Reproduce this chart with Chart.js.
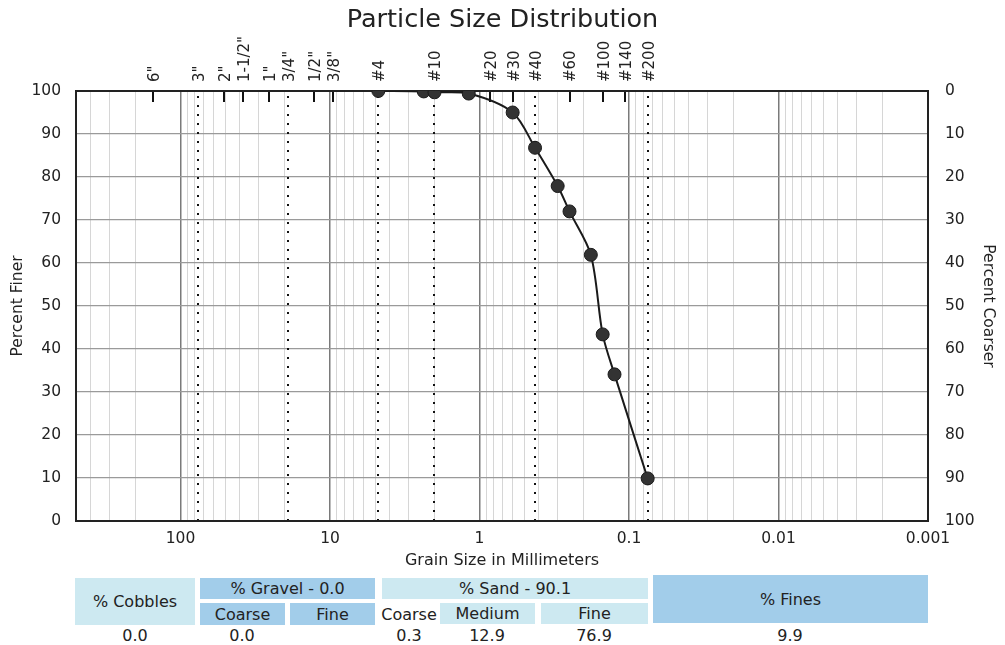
<!DOCTYPE html>
<html><head><meta charset="utf-8">
<script src="https://cdn.jsdelivr.net/npm/chart.js@4.4.1/dist/chart.umd.min.js"></script>
<style>
html,body{margin:0;padding:0;background:#fff;}
#wrap{position:relative;width:1005px;height:645px;font-family:"DejaVu Sans",Verdana,sans-serif;overflow:hidden;}
#c{position:absolute;left:0;top:0;}
.cell{position:absolute;display:flex;align-items:center;justify-content:center;font-size:16px;color:#222;white-space:nowrap;}
</style></head><body>
<div id="wrap"><canvas id="c" width="1005" height="572"></canvas></div>
<script>
// ---- data ----
const grainSizes   = [4.75, 2.36, 2.0, 1.18, 0.6, 0.425, 0.3, 0.25, 0.18, 0.15, 0.125, 0.075];
const percentFiner = [100, 99.9, 99.7, 99.4, 95.0, 86.8, 77.9, 72.0, 61.9, 43.4, 34.1, 9.9];
const sieveLabels  = ['6"','3"','2"','1-1/2"','1"','3/4"','1/2"','3/8"','#4','#10','#20','#30','#40','#60','#100','#140','#200'];
const sieveSizes   = [152.4, 76.2, 50.8, 38.1, 25.4, 19.05, 12.7, 9.525, 4.75, 2.0, 0.85, 0.6, 0.425, 0.25, 0.15, 0.106, 0.075];
const boundarySizes = [76.2, 19.05, 4.75, 2.0, 0.425, 0.075];
const xTickLabels  = [100, 10, 1, 0.1, 0.01, 0.001];
const yTickValues  = [0, 10, 20, 30, 40, 50, 60, 70, 80, 90, 100];
const summaryHeaders = ['% Cobbles', '% Gravel - 0.0', 'Coarse', 'Fine', '% Sand - 90.1', 'Coarse', 'Medium', 'Fine', '% Fines'];
const summaryValues  = ['0.0', '0.0', '', '0.3', '12.9', '76.9', '9.9'];

// ---- summary table (HTML) ----
const BLUE = '#a2cdea', LIGHT = '#cde9f1';
const headerBoxes = [
  [75, 578, 120, 47, LIGHT], [200, 578, 175, 21, BLUE], [200, 603, 85, 22, BLUE], [290, 603, 85, 22, BLUE],
  [382, 578, 266, 21, LIGHT], [382, 603, 54, 22, null], [440, 603, 95, 21, LIGHT], [541, 603, 107, 21, LIGHT],
  [653, 575, 275, 48, BLUE]
];
const valueCenters = [135, 242, 332, 409, 487, 594, 790];
const wrap = document.getElementById('wrap');
summaryHeaders.forEach((t, i) => {
  const [l, tp, w, h, bg] = headerBoxes[i];
  const d = document.createElement('div');
  d.className = 'cell';
  d.style.cssText = `left:${l}px;top:${tp}px;width:${w}px;height:${h}px;` + (bg ? `background:${bg};` : '');
  d.textContent = t;
  wrap.appendChild(d);
});
summaryValues.forEach((v, i) => {
  const d = document.createElement('div');
  d.className = 'cell';
  d.style.cssText = `left:${valueCenters[i] - 40}px;top:626px;width:80px;height:19px;`;
  d.textContent = v;
  wrap.appendChild(d);
});

// ---- chart ----
Chart.defaults.font.family = '"DejaVu Sans", Verdana, sans-serif';
Chart.defaults.font.size = 15.5;
Chart.defaults.color = '#222';

const overlay = {
  id: 'overlay',
  beforeDatasetsDraw(chart) {
    const {ctx, chartArea: a, scales: {x}} = chart;
    ctx.save();
    ctx.strokeStyle = '#111';
    ctx.lineWidth = 2;
    ctx.setLineDash([2, 7]);
    boundarySizes.forEach(s => {
      const px = Math.round(x.getPixelForValue(s));
      ctx.beginPath(); ctx.moveTo(px, a.top + 5); ctx.lineTo(px, a.bottom); ctx.stroke();
    });
    ctx.setLineDash([]);
    sieveSizes.forEach(s => {
      if (boundarySizes.includes(s)) return;
      const px = Math.round(x.getPixelForValue(s));
      ctx.beginPath(); ctx.moveTo(px, a.top); ctx.lineTo(px, a.top + 11); ctx.stroke();
    });
    ctx.strokeStyle = '#222';
    ctx.lineWidth = 2;
    ctx.strokeRect(a.left, a.top, a.right - a.left, a.bottom - a.top);
    ctx.restore();
  },
  afterDraw(chart) {
    const {ctx, chartArea: a, scales: {x}} = chart;
    ctx.save();
    ctx.fillStyle = '#222';
    ctx.font = '15px "DejaVu Sans", Verdana, sans-serif';
    ctx.textAlign = 'left';
    ctx.textBaseline = 'middle';
    sieveSizes.forEach((s, i) => {
      const px = x.getPixelForValue(s);
      ctx.save();
      ctx.translate(px + 2, a.top - 9);
      ctx.rotate(-Math.PI / 2);
      ctx.fillText(sieveLabels[i], 0, 0);
      ctx.restore();
    });
    ctx.restore();
  }
};

new Chart(document.getElementById('c'), {
  type: 'scatter',
  data: {
    datasets: [{
      data: grainSizes.map((g, i) => ({x: g, y: percentFiner[i]})),
      showLine: true,
      tension: 0.3,
      borderColor: '#1a1a1a',
      borderWidth: 2,
      pointRadius: 6.5,
      pointBackgroundColor: '#333',
      pointBorderColor: '#1a1a1a',
      pointBorderWidth: 1
    }]
  },
  options: {
    responsive: false,
    animation: false,
    devicePixelRatio: 1,
    layout: {padding: 0},
    plugins: {
      legend: {display: false},
      tooltip: {enabled: false},
      title: {
        display: true,
        text: 'Particle Size Distribution',
        font: {size: 25.5, weight: 'normal'},
        color: '#222',
        padding: {top: 5, bottom: 55.4}
      }
    },
    scales: {
      x: {
        type: 'logarithmic',
        reverse: true,
        min: 0.001,
        max: 500,
        afterBuildTicks(scale) {
          const t = [];
          for (let e = -3; e <= 2; e++) {
            for (let m = 1; m <= 9; m++) {
              const v = +(m * Math.pow(10, e)).toPrecision(6);
              if (v <= 500) t.push({value: v});
            }
          }
          scale.ticks = t;
        },
        afterFit(scale) { scale.height = 51; },
        ticks: {
          autoSkip: false, maxRotation: 0, padding: 9,
          callback: v => xTickLabels.includes(v) ? String(v) : ''
        },
        grid: {
          drawTicks: false,
          color: c => xTickLabels.includes(c.tick.value) ? '#7a7a7a' : '#d6d6d6',
          lineWidth: c => xTickLabels.includes(c.tick.value) ? 1.5 : 1
        },
        border: {display: false},
        title: {display: true, text: 'Grain Size in Millimeters', font: {size: 16}, padding: {top: 0, bottom: 2}}
      },
      y: {
        position: 'left',
        min: 0, max: 100,
        afterBuildTicks(scale) { scale.ticks = yTickValues.map(v => ({value: v})); },
        afterFit(scale) { scale.width = 76; },
        ticks: {padding: 15},
        grid: {drawTicks: false, color: '#9a9a9a', lineWidth: 1.2},
        border: {display: false},
        title: {display: true, text: 'Percent Finer', padding: {top: 9, bottom: 0}}
      },
      y2: {
        position: 'right',
        reverse: true,
        min: 0, max: 100,
        afterBuildTicks(scale) { scale.ticks = yTickValues.map(v => ({value: v})); },
        afterFit(scale) { scale.width = 77; },
        ticks: {padding: 17},
        grid: {display: false, drawTicks: false},
        border: {display: false},
        title: {display: true, text: 'Percent Coarser', padding: {top: 8, bottom: 0}}
      }
    }
  },
  plugins: [overlay]
});
</script>
</body></html>
